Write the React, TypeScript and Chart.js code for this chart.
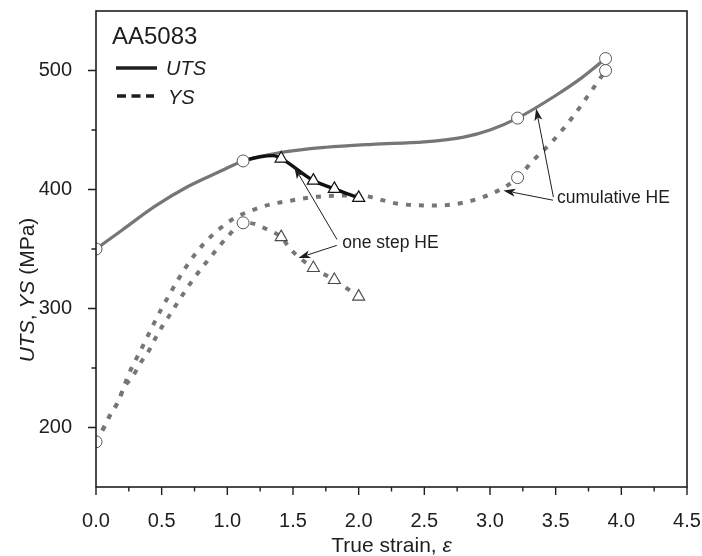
import React, { useEffect, useRef } from 'react';
import { Chart, registerables } from 'chart.js';
Chart.register(...registerables);

// ---- tick labels ----
const X_TICKS = [0, 0.5, 1.0, 1.5, 2.0, 2.5, 3.0, 3.5, 4.0, 4.5];
const X_MINOR = [0.25, 0.75, 1.25, 1.75, 2.25, 2.75, 3.25, 3.75, 4.25];
const Y_TICKS = [200, 300, 400, 500];
const Y_MINOR = [250, 350, 450];

// ---- UTS curve ----
const UTS_X = [0, 0.2, 0.45, 0.7, 0.95, 1.12, 1.4, 1.75, 2.1, 2.5, 2.8, 3.0, 3.21, 3.5, 3.7, 3.88];
const UTS_Y = [350, 366, 386, 402.5, 415.5, 424, 431, 435.5, 438, 440, 444, 450, 460, 479, 494, 510];

// ---- UTS one-step HE branch (black) ----
const UTS_HE_X = [1.12, 1.25, 1.35, 1.41, 1.655, 1.815, 2.0];
const UTS_HE_Y = [424, 427.5, 428.5, 426, 407.5, 400.5, 393];

// ---- YS cumulative HE curve (upper dotted) ----
const YS_CUM_X = [0, 0.06, 0.11, 0.17, 0.25, 0.35, 0.5, 0.75, 1.0, 1.25, 1.5, 1.75, 2.0, 2.3, 2.57, 2.82, 3.08, 3.21, 3.33, 3.48, 3.63, 3.76, 3.88];
const YS_CUM_Y = [188, 200, 211, 222, 245, 267, 300, 345, 372, 385, 391, 394.5, 395, 388, 386.5, 389.5, 400, 410, 424.5, 441, 461, 481, 500];

// ---- YS one-step HE curve (lower dotted) ----
const YS_ONE_X = [0, 0.06, 0.11, 0.17, 0.21, 0.28, 0.34, 0.4, 0.455, 0.51, 0.57, 0.63, 0.75, 0.9, 1.0, 1.12, 1.21, 1.31, 1.41, 1.48, 1.655, 1.815, 2.0];
const YS_ONE_Y = [188, 200, 211, 222, 233, 243, 254.5, 264, 275.6, 286, 296, 306.5, 326, 347, 360, 372, 371, 366, 360, 350, 334, 324, 310];

// ---- markers ----
const UTS_CIRCLE_X = [0, 1.12, 3.21, 3.88];
const UTS_CIRCLE_Y = [350, 424, 460, 510];
const YS_CIRCLE_X = [0, 1.12, 3.21, 3.88];
const YS_CIRCLE_Y = [188, 372, 410, 500];
const UTS_TRI_X = [1.41, 1.655, 1.815, 2.0];
const UTS_TRI_Y = [426, 407.5, 400.5, 393];
const YS_TRI_X = [1.41, 1.655, 1.815, 2.0];
const YS_TRI_Y = [360, 334, 324, 310];

// ---- annotation arrows (data coords: tail -> tip) ----
const ONE_STEP_LABEL = { x: 1.875, y: 355, text: 'one step HE' };
const ONE_STEP_ARROWS = [
  { x0: 1.835, y0: 358, x1: 1.51, y1: 419 },
  { x0: 1.833, y0: 353, x1: 1.541, y1: 342.5 },
];
const CUM_LABEL = { x: 3.51, y: 393, text: 'cumulative HE' };
const CUM_ARROWS = [
  { x0: 3.483, y0: 393.6, x1: 3.351, y1: 468 },
  { x0: 3.48, y0: 391, x1: 3.102, y1: 399.2 },
];

const FONT = "'Liberation Sans', Arial, Helvetica, sans-serif";
const GRAY = '#767676';
const INK = '#1e1e1e';

const pts = (xs: number[], ys: number[]) => xs.map((x, i) => ({ x, y: ys[i] }));

const decorPlugin = {
  id: 'decor',
  afterDatasetsDraw(chart: any) {
    const { ctx, chartArea: a, scales } = chart;
    const xs = scales.x;
    const ys = scales.y;
    ctx.save();
    // frame
    ctx.strokeStyle = INK;
    ctx.lineWidth = 1.6;
    ctx.strokeRect(a.left, a.top, a.right - a.left, a.bottom - a.top);
    // ticks
    ctx.lineWidth = 1.4;
    ctx.beginPath();
    X_TICKS.forEach((v) => {
      const px = xs.getPixelForValue(v);
      ctx.moveTo(px, a.bottom);
      ctx.lineTo(px, a.bottom + 8);
    });
    X_MINOR.forEach((v) => {
      const px = xs.getPixelForValue(v);
      ctx.moveTo(px, a.bottom);
      ctx.lineTo(px, a.bottom + 4.5);
    });
    Y_TICKS.forEach((v) => {
      const py = ys.getPixelForValue(v);
      ctx.moveTo(a.left, py);
      ctx.lineTo(a.left - 8, py);
    });
    Y_MINOR.forEach((v) => {
      const py = ys.getPixelForValue(v);
      ctx.moveTo(a.left, py);
      ctx.lineTo(a.left - 4.5, py);
    });
    ctx.stroke();

    // legend
    ctx.fillStyle = INK;
    ctx.textBaseline = 'alphabetic';
    ctx.textAlign = 'left';
    ctx.font = `24px ${FONT}`;
    ctx.fillText('AA5083', a.left + 16, 44);
    ctx.lineWidth = 3.5;
    ctx.beginPath();
    ctx.moveTo(a.left + 20, 68);
    ctx.lineTo(a.left + 61, 68);
    ctx.stroke();
    ctx.setLineDash([9, 5.5]);
    ctx.beginPath();
    ctx.moveTo(a.left + 21, 96);
    ctx.lineTo(a.left + 58, 96);
    ctx.stroke();
    ctx.setLineDash([]);
    ctx.font = `italic 20px ${FONT}`;
    ctx.fillText('UTS', a.left + 70, 75);
    ctx.fillText('YS', a.left + 72, 104);

    // annotations
    const arrow = (ar: any) => {
      const x0 = xs.getPixelForValue(ar.x0), y0 = ys.getPixelForValue(ar.y0);
      const x1 = xs.getPixelForValue(ar.x1), y1 = ys.getPixelForValue(ar.y1);
      const ang = Math.atan2(y1 - y0, x1 - x0);
      const L = 12, W = 4;
      ctx.strokeStyle = INK;
      ctx.lineWidth = 1;
      ctx.beginPath();
      ctx.moveTo(x0, y0);
      ctx.lineTo(x1 - Math.cos(ang) * L * 0.8, y1 - Math.sin(ang) * L * 0.8);
      ctx.stroke();
      ctx.fillStyle = INK;
      ctx.beginPath();
      ctx.moveTo(x1, y1);
      ctx.lineTo(x1 - Math.cos(ang) * L - Math.sin(ang) * W, y1 - Math.sin(ang) * L + Math.cos(ang) * W);
      ctx.lineTo(x1 - Math.cos(ang) * L * 0.75, y1 - Math.sin(ang) * L * 0.75);
      ctx.lineTo(x1 - Math.cos(ang) * L + Math.sin(ang) * W, y1 - Math.sin(ang) * L - Math.cos(ang) * W);
      ctx.closePath();
      ctx.fill();
    };
    ONE_STEP_ARROWS.forEach(arrow);
    CUM_ARROWS.forEach(arrow);
    ctx.fillStyle = INK;
    ctx.font = `17.5px ${FONT}`;
    ctx.textBaseline = 'middle';
    ctx.fillText(ONE_STEP_LABEL.text, xs.getPixelForValue(ONE_STEP_LABEL.x), ys.getPixelForValue(ONE_STEP_LABEL.y));
    ctx.fillText(CUM_LABEL.text, xs.getPixelForValue(CUM_LABEL.x), ys.getPixelForValue(CUM_LABEL.y));

    // x title: "True strain, ε"
    ctx.textBaseline = 'alphabetic';
    const t1 = 'True strain, ';
    ctx.font = `21px ${FONT}`;
    const w1 = ctx.measureText(t1).width;
    ctx.font = `italic 21px ${FONT}`;
    const w2 = ctx.measureText('ε').width;
    const cx = (a.left + a.right) / 2;
    const sx = cx - (w1 + w2) / 2;
    ctx.font = `21px ${FONT}`;
    ctx.fillText(t1, sx, 552);
    ctx.font = `italic 21px ${FONT}`;
    ctx.fillText('ε', sx + w1, 552);

    // y title: "UTS, YS (MPa)"
    const parts: [string, boolean][] = [['UTS', true], [', ', false], ['YS', true], [' (MPa)', false]];
    let total = 0;
    const widths = parts.map(([s, it]) => {
      ctx.font = `${it ? 'italic ' : ''}21px ${FONT}`;
      const w = ctx.measureText(s).width;
      total += w;
      return w;
    });
    ctx.translate(34, 290);
    ctx.rotate(-Math.PI / 2);
    let px = -total / 2;
    parts.forEach(([s, it], i) => {
      ctx.font = `${it ? 'italic ' : ''}21px ${FONT}`;
      ctx.fillText(s, px, 0);
      px += widths[i];
    });
    ctx.restore();
  },
};

export default function App() {
  const ref = useRef<HTMLCanvasElement>(null);
  useEffect(() => {
    if (!ref.current) return;
    const lineDs = (data: any, color: string, width: number, dash: number[] = []) => ({
      data,
      showLine: true,
      borderColor: color,
      borderWidth: width,
      borderDash: dash,
      borderCapStyle: 'butt',
      pointRadius: 0,
      cubicInterpolationMode: 'monotone',
      fill: false,
    });
    const markerDs = (data: any, style: string, r: number, border: string, bw: number) => ({
      data,
      showLine: false,
      pointStyle: style,
      pointRadius: r,
      pointBackgroundColor: '#ffffff',
      pointBorderColor: border,
      pointBorderWidth: bw,
      clip: 0,
    });
    const chart = new Chart(ref.current, {
      type: 'scatter',
      data: {
        datasets: [
          markerDs(pts(UTS_TRI_X, UTS_TRI_Y), 'triangle', 7, '#111111', 1.2),
          markerDs(pts(YS_TRI_X, YS_TRI_Y), 'triangle', 7, '#4a4a4a', 1.1),
          markerDs(pts(UTS_CIRCLE_X, UTS_CIRCLE_Y), 'circle', 6, '#555555', 1),
          markerDs(pts(YS_CIRCLE_X, YS_CIRCLE_Y), 'circle', 6, '#555555', 1),
          lineDs(pts(UTS_HE_X, UTS_HE_Y), '#111111', 3.4),
          lineDs(pts(UTS_X, UTS_Y), GRAY, 3.2),
          lineDs(pts(YS_CUM_X, YS_CUM_Y), GRAY, 4, [5, 8]),
          lineDs(pts(YS_ONE_X, YS_ONE_Y), GRAY, 4, [5, 8]),
        ] as any,
      },
      options: {
        animation: false,
        responsive: false,
        maintainAspectRatio: false,
        layout: { padding: { top: 11, right: 15, left: 0, bottom: 0 } },
        plugins: { legend: { display: false }, tooltip: { enabled: false }, title: { display: false } },
        events: [],
        scales: {
          x: {
            type: 'linear',
            min: 0,
            max: 4.5,
            grid: { display: false },
            border: { display: false },
            ticks: {
              color: INK,
              padding: 14,
              maxRotation: 0,
              font: { family: FONT, size: 20 },
              callback: (v: any) => Number(v).toFixed(1),
            },
            afterBuildTicks: (s: any) => {
              s.ticks = X_TICKS.map((v) => ({ value: v }));
            },
            afterFit: (s: any) => {
              s.height = 69;
              s.paddingLeft = 0;
              s.paddingRight = 0;
              s.paddingTop = 0;
              s.paddingBottom = 0;
            },
          },
          y: {
            type: 'linear',
            min: 150,
            max: 550,
            grid: { display: false },
            border: { display: false },
            ticks: {
              color: INK,
              padding: 16,
              font: { family: FONT, size: 20, lineHeight: 1 },
            },
            afterBuildTicks: (s: any) => {
              s.ticks = Y_TICKS.map((v) => ({ value: v }));
            },
            afterFit: (s: any) => {
              s.width = 96;
              s.paddingLeft = 0;
              s.paddingRight = 0;
              s.paddingTop = 0;
              s.paddingBottom = 0;
            },
          },
        },
      } as any,
      plugins: [decorPlugin],
    });
    return () => chart.destroy();
  }, []);
  return (
    <div style={{ position: 'fixed', left: 0, top: 0, width: 702, height: 556, background: '#fff' }}>
      <canvas ref={ref} width={702} height={556} style={{ display: 'block', width: 702, height: 556 }} />
    </div>
  );
}
